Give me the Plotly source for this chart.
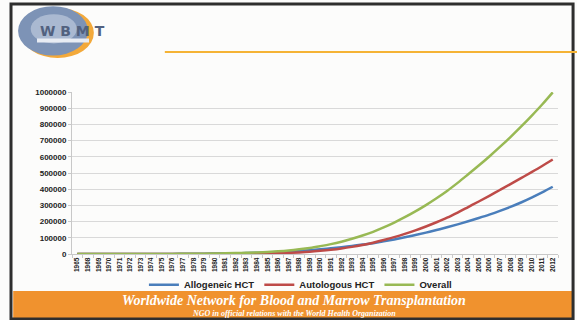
import plotly.graph_objects as go

# Category labels (note the jump from 1965 to 1968)
years = ["1965"] + [str(y) for y in range(1968, 2013)]

# Cumulative number of transplants
allogeneic = [0, 10, 20, 40, 60, 100, 150, 250, 400, 600, 900, 1300, 1800, 2500, 3400,
              4500, 5800, 7500, 9500, 12000, 15000, 19000, 23500, 29000, 35000, 42000,
              50000, 58000, 67000, 78000, 90000, 103000, 117000, 132000, 148000, 165000,
              183000, 202000, 222000, 243000, 266000, 291000, 318000, 348000, 380000, 415000]
autologous = [0, 0, 0, 0, 0, 0, 0, 0, 0, 0, 0, 50, 150, 300, 600,
              1000, 1500, 2000, 3200, 4800, 7000, 10000, 14000, 19500, 26000, 34000,
              44000, 56000, 70000, 86000, 104000, 124000, 146000, 170000, 196000, 224000,
              256000, 290000, 324000, 359000, 395000, 431000, 468000, 505000, 543000, 583000]
overall = [a + b for a, b in zip(allogeneic, autologous)]

fig = go.Figure()
fig.add_trace(go.Scatter(x=years, y=allogeneic, name="Allogeneic HCT", mode="lines",
                         line=dict(color="#4a7ebb", width=2.5, shape="spline")))
fig.add_trace(go.Scatter(x=years, y=autologous, name="Autologous HCT", mode="lines",
                         line=dict(color="#be4b48", width=2.5, shape="spline")))
fig.add_trace(go.Scatter(x=years, y=overall, name="Overall", mode="lines",
                         line=dict(color="#98b954", width=2.5, shape="spline")))

P = dict(xref="paper", yref="paper")
shapes = [
    # footer banner
    dict(type="rect", **P, x0=-0.121, x1=1.029, y0=-0.395, y1=-0.228,
         line=dict(width=0), fillcolor="#f0922e", layer="below"),
    # outer frame
    dict(type="rect", **P, x0=-0.1255, x1=1.031, y0=-0.401, y1=1.543,
         line=dict(color="#2e2e2e", width=3), fillcolor="rgba(0,0,0,0)", layer="below"),
    # orange rule under the header
    dict(type="line", **P, x0=0.191, x1=1.04, y0=1.247, y1=1.247,
         line=dict(color="#f5b335", width=2)),
    # logo: orange swoosh, globe and highlight
    dict(type="circle", **P, x0=-0.104, x1=0.045, y0=1.21, y1=1.52,
         line=dict(width=0), fillcolor="#f3a93a", layer="below"),
    dict(type="circle", **P, x0=-0.111, x1=0.033, y0=1.225, y1=1.53,
         line=dict(width=0), fillcolor="#7d93b6", layer="below"),
    dict(type="circle", **P, x0=-0.085, x1=0.01, y0=1.3, y1=1.48,
         line=dict(width=0), fillcolor="#aab9d1", layer="below"),
    # white strip under the logo lettering
    dict(type="rect", **P, x0=-0.072, x1=0.035, y0=1.305, y1=1.33,
         line=dict(width=0), fillcolor="#e8ecf3", layer="below"),
]

annotations = [
    dict(text="<b>W B M T</b>", **P, x=0.0, y=1.376, showarrow=False,
         font=dict(family="DejaVu Sans", size=14, color="#52617f"), xanchor="center",
         yanchor="middle"),
    dict(text="<b><i>Worldwide Network for Blood and Marrow Transplantation</i></b>",
         **P, x=0.457, y=-0.284, showarrow=False, yanchor="middle",
         font=dict(family="Liberation Serif", size=14, color="white"), xanchor="center"),
    dict(text="<b><i>NGO in official relations with the World Health Organization</i></b>",
         **P, x=0.457, y=-0.366, showarrow=False, yanchor="middle",
         font=dict(family="Liberation Serif", size=8, color="white"), xanchor="center"),
]

fig.update_layout(
    width=577, height=320,
    margin=dict(l=72, r=19, t=92, b=66),
    paper_bgcolor="#fcfcfb", plot_bgcolor="#fcfcfb",
    showlegend=True,
    legend=dict(orientation="h", x=0.47, xanchor="center", y=-0.19, yanchor="middle",
                font=dict(family="Liberation Sans", size=9.5, color="#222", weight="bold"),
                bgcolor="rgba(0,0,0,0)", itemwidth=30, tracegroupgap=0),
    shapes=shapes, annotations=annotations,
    xaxis=dict(type="category", tickangle=-90, showgrid=False, range=[-0.5, 45.5],
               tickfont=dict(family="Liberation Sans", size=6.5, color="#222", weight="bold"),
               showline=True, linecolor="#c8c8c8", ticks="outside", ticklen=3,
               tickcolor="#c8c8c8", tickson="boundaries"),
    yaxis=dict(range=[0, 1000000], dtick=100000, tickformat="d",
               showgrid=True, gridcolor="#d9d9d9", zeroline=False,
               showline=True, linecolor="#c8c8c8", ticks="outside", ticklen=3,
               tickcolor="#c8c8c8",
               tickfont=dict(family="Liberation Sans", size=8, color="#222", weight="bold")),
)

fig.write_html("out.html")
